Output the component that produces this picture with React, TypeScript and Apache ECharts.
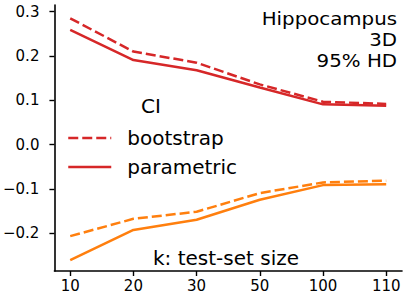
import React, { useEffect, useRef } from "react";
import * as echarts from "echarts";

const kLabels = ["10", "20", "30", "50", "100", "110"];
const upperBootstrap = [0.285, 0.21, 0.185, 0.136, 0.097, 0.092];
const upperParametric = [0.259, 0.191, 0.168, 0.129, 0.091, 0.088];
const lowerBootstrap = [-0.206, -0.167, -0.151, -0.109, -0.085, -0.081];
const lowerParametric = [-0.26, -0.192, -0.169, -0.124, -0.091, -0.089];
const yTicks = [-0.2, -0.1, 0.0, 0.1, 0.2, 0.3];
const xTicks = [0, 1, 2, 3, 4, 5];
const annotationLines = ["Hippocampus", "3D", "95% HD"];

const RED = "#d62728";
const ORANGE = "#ff7f0e";
const FONT = "DejaVu Sans";

const toPairs = (arr: number[]) => arr.map((v, i) => [i, v]);

export default function App() {
  const ref = useRef<HTMLDivElement>(null);
  useEffect(() => {
    if (!ref.current) return;
    const chart = echarts.init(ref.current, undefined, { renderer: "svg" });
    const dash = [10, 4];
    const legendText = { fontFamily: FONT, fontSize: 20, color: "#000", lineHeight: 20, padding: [0, 0, 0, 11] };
    chart.setOption({
      animation: false,
      backgroundColor: "#ffffff",
      grid: { left: 51, right: 4, top: 5, bottom: 34, containLabel: false },
      xAxis: {
        type: "value",
        min: -0.25,
        max: 5.25,
        splitLine: { show: false },
        axisLine: { show: true, onZero: false, lineStyle: { color: "#000", width: 1.6 } },
        axisTick: { show: true, length: 5, lineStyle: { color: "#000", width: 1.4 }, customValues: xTicks },
        axisLabel: {
          customValues: xTicks,
          formatter: (v: number) => kLabels[Math.round(v)] ?? "",
          color: "#000",
          fontFamily: FONT,
          fontSize: 15,
          margin: 7,
        },
      },
      yAxis: {
        type: "value",
        min: -0.2846,
        max: 0.315,
        splitLine: { show: false },
        axisLine: { show: true, onZero: false, lineStyle: { color: "#000", width: 1.6 } },
        axisTick: { show: true, length: 5, lineStyle: { color: "#000", width: 1.4 }, customValues: yTicks },
        axisLabel: {
          customValues: yTicks,
          formatter: (v: number) => (v < -1e-9 ? "\u2212" : "") + Math.abs(v).toFixed(1),
          color: "#000",
          fontFamily: FONT,
          fontSize: 15,
          margin: 15,
        },
      },
      legend: [
        {
          data: ["bootstrap"],
          left: 67,
          top: 128,
          itemWidth: 43,
          itemHeight: 20,
          selectedMode: false,
          padding: 0,
          itemStyle: { opacity: 0 },
          lineStyle: { color: RED, width: 2.5, type: dash },
          textStyle: legendText,
        },
        {
          data: ["parametric"],
          left: 67,
          top: 157,
          itemWidth: 43,
          itemHeight: 20,
          selectedMode: false,
          padding: 0,
          itemStyle: { opacity: 0 },
          lineStyle: { color: RED, width: 2.5, type: "solid" },
          textStyle: legendText,
        },
      ],
      graphic: [
        {
          type: "text",
          left: 141,
          top: 96,
          style: { text: "CI", fontFamily: FONT, fontSize: 20, fill: "#000" },
        },
        ...annotationLines.map((t, i) => ({
          type: "text",
          x: 397,
          y: 18 + i * 21,
          scaleX: 1.1,
          style: {
            text: t,
            fontFamily: FONT,
            fontSize: 18,
            fill: "#000",
            align: "right",
            verticalAlign: "middle",
            lineHeight: 18,
          },
        })),
        {
          type: "text",
          x: 226,
          y: 258,
          style: {
            text: "k: test-set size",
            fontFamily: FONT,
            fontSize: 20,
            fill: "#000",
            align: "center",
            verticalAlign: "middle",
          },
        },
      ],
      series: [
        {
          name: "bootstrap",
          type: "line",
          data: toPairs(upperBootstrap),
          symbol: "none",
          lineStyle: { color: RED, width: 2.5, type: dash },
          itemStyle: { color: RED },
        },
        {
          name: "parametric",
          type: "line",
          data: toPairs(upperParametric),
          symbol: "none",
          lineStyle: { color: RED, width: 2.5 },
          itemStyle: { color: RED },
        },
        {
          name: "bootstrap lower",
          type: "line",
          data: toPairs(lowerBootstrap),
          symbol: "none",
          lineStyle: { color: ORANGE, width: 2.5, type: dash },
          itemStyle: { color: ORANGE },
        },
        {
          name: "parametric lower",
          type: "line",
          data: toPairs(lowerParametric),
          symbol: "none",
          lineStyle: { color: ORANGE, width: 2.5 },
          itemStyle: { color: ORANGE },
        },
      ],
    });
    return () => chart.dispose();
  }, []);
  return (
    <div
      ref={ref}
      style={{ position: "fixed", left: 0, top: 0, width: 406, height: 305, background: "#fff" }}
    />
  );
}
